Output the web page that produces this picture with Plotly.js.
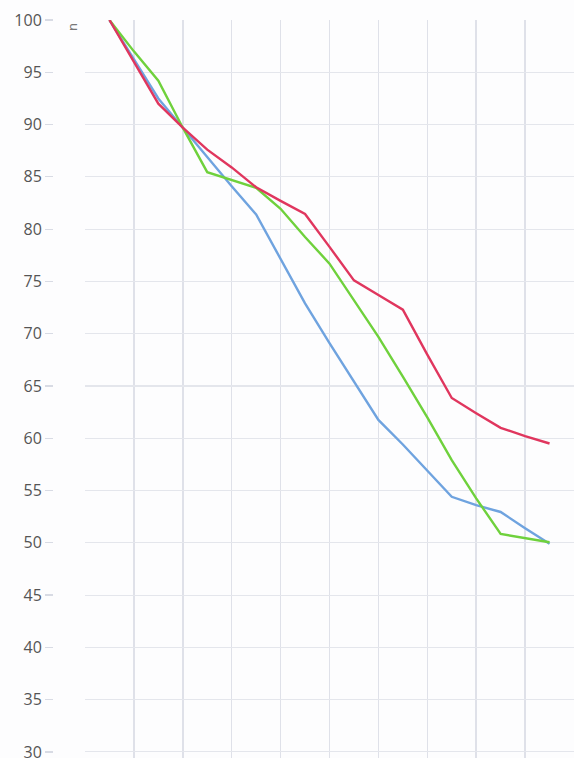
<!DOCTYPE html>
<html>
<head>
<meta charset="utf-8">
<script src="https://cdn.plot.ly/plotly-3.0.1.min.js"></script>
<style>
  html, body { margin: 0; padding: 0; background: #fdfdfe; }
  #chart { width: 574px; height: 758px; }
</style>
</head>
<body>
<div id="chart"></div>
<script>
// x positions of the samples
const steps = [0.5, 1.0, 1.5, 2.0, 2.5, 3.0, 3.5, 4.0, 4.5, 5.0, 5.5, 6.0, 6.5, 7.0, 7.5, 8.0, 8.5, 9.0, 9.5];
// series values
const redSeries   = [100, 96.0, 92.0, 89.7, 87.6, 85.9, 84.0, 82.7, 81.45, 78.3, 75.1, 73.7, 72.3, 68.0, 63.85, 62.4, 61.0, 60.2, 59.5];
const blueSeries  = [100, 96.3, 92.5, 89.7, 86.85, 84.1, 81.4, 77.1, 72.9, 69.1, 65.4, 61.75, 59.4, 56.9, 54.4, 53.6, 52.95, 51.4, 49.9];
const greenSeries = [100, 97.0, 94.2, 89.7, 85.45, 84.7, 83.95, 81.95, 79.25, 76.7, 73.2, 69.7, 65.9, 62.0, 57.9, 54.25, 50.85, 50.45, 50.05];
const yTicks = [30, 35, 40, 45, 50, 55, 60, 65, 70, 75, 80, 85, 90, 95, 100];
const xGrid = [1, 2, 3, 4, 5, 6, 7, 8, 9];

const mk = (y, color) => ({
  x: steps, y: y, type: 'scatter', mode: 'lines',
  line: { color: color, width: 2.4 }, hoverinfo: 'skip', showlegend: false
});

const data = [
  mk(blueSeries, '#6fa3df'),
  mk(greenSeries, '#6fd13c'),
  mk(redSeries, '#e0365e')
];

const layout = {
  width: 574, height: 758,
  margin: { l: 53, r: 0, t: 20, b: 0, pad: 0 },
  paper_bgcolor: '#fdfdfe', plot_bgcolor: '#fdfdfe',
  showlegend: false,
  xaxis: {
    domain: [0.0614, 1],
    range: [0, 10],
    tickmode: 'array', tickvals: xGrid,
    showticklabels: false, ticks: '',
    showgrid: true, gridcolor: '#dfe1e9', gridwidth: 1.5,
    zeroline: false, showline: false, fixedrange: true
  },
  yaxis: {
    anchor: 'free', position: 0,
    range: [29.42, 100],
    tickmode: 'array', tickvals: yTicks, ticktext: yTicks.map(String),
    ticks: 'outside', ticklen: 8, tickwidth: 1.2, tickcolor: '#d8dbe4',
    ticklabeloverflow: 'allow',
    tickfont: { family: 'Open Sans, Noto Sans, sans-serif', size: 16, color: '#555555' },
    showgrid: true, gridcolor: '#e4e6ec', gridwidth: 1.1,
    zeroline: false, showline: false, fixedrange: true
  },
  annotations: [{
    xref: 'paper', yref: 'paper',
    x: 0.0365, y: 1, xanchor: 'center', yanchor: 'middle',
    yshift: -7,
    text: 'n', textangle: -90, showarrow: false,
    font: { family: 'Noto Sans, sans-serif', size: 13, color: '#777777' }
  }]
};

Plotly.newPlot('chart', data, layout, { staticPlot: true, displayModeBar: false });
</script>
</body>
</html>
